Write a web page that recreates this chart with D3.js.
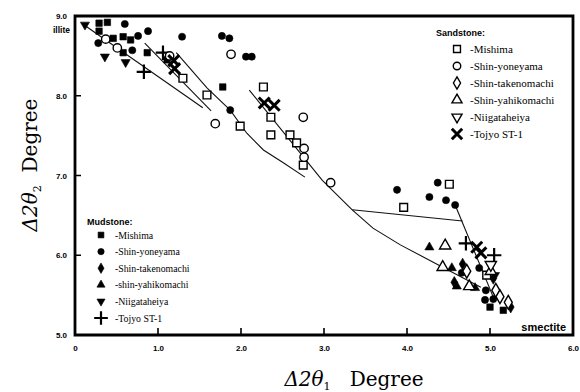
<!DOCTYPE html>
<html><head><meta charset="utf-8">
<script src="https://cdn.jsdelivr.net/npm/d3@7"></script>
<style>body{margin:0;background:#fff;color:#000}</style></head>
<body>
<svg id="c" width="580" height="392"></svg>
<script>
// ---- tick labels ----
const xTicks = [0, 1, 2, 3, 4, 5, 6];
const xTickLabels = ["0", "1.0", "2.0", "3.0", "4.0", "5.0", "6.0"];
const yTicks = [5, 6, 7, 8, 9];
const yTickLabels = ["5.0", "6.0", "7.0", "8.0", "9.0"];

// ---- Mudstone series (filled) ----
const mudMishima = [[0.29,8.91],[0.39,8.92],[0.29,8.81],[0.46,8.72],[0.58,8.74],[0.67,8.70],[0.58,8.54],[0.87,8.54],[1.11,8.45],[1.78,8.11],[5.00,5.35],[5.16,5.31]];
const mudShinYoneyama = [[0.28,8.66],[0.60,8.90],[0.76,8.75],[0.88,8.81],[0.69,8.57],[1.29,8.74],[1.77,8.75],[1.86,8.72],[2.06,8.49],[2.13,8.49],[1.87,7.82],[3.88,6.82],[4.37,6.91],[4.27,6.73],[4.47,6.69],[4.58,6.63],[4.66,5.78],[4.87,5.84],[4.95,5.56],[4.94,5.44],[5.04,5.45]];
const mudShinTakenomachi = [[4.67,5.89],[4.57,5.66],[5.04,5.71],[5.25,5.35]];
const mudShinYahikomachi = [[4.27,6.10],[4.54,5.84],[4.60,5.61],[4.82,5.59]];
const mudNiigataheiya = [[0.12,8.89],[0.36,8.49],[0.61,8.42],[5.06,5.75]];
const mudTojyo = [[0.83,8.30],[1.06,8.54],[4.71,6.15],[5.05,6.00]];

// ---- Sandstone series (open) ----
const sandMishima = [[1.30,8.22],[1.59,8.01],[1.99,7.62],[2.27,8.11],[2.36,7.73],[2.36,7.51],[2.59,7.51],[2.67,7.41],[2.75,7.13],[3.96,6.60],[4.51,6.89],[4.96,5.75]];
const sandShinYoneyama = [[0.37,8.71],[0.51,8.60],[1.14,8.50],[1.88,8.52],[1.69,7.65],[2.75,7.73],[2.76,7.34],[2.76,7.23],[3.08,6.91]];
const sandShinTakenomachi = [[4.72,5.80],[5.07,5.56],[5.12,5.48],[5.22,5.41]];
const sandShinYahikomachi = [[4.46,6.12],[4.43,5.85],[4.75,5.61],[5.01,5.80]];
const sandNiigataheiya = [[5.01,5.88]];
const sandTojyo = [[1.19,8.44],[1.20,8.34],[2.28,7.91],[2.40,7.88],[4.84,6.10],[4.89,6.03]];

// ---- trend lines ----
const lineA = [[0.08,8.91],[1.54,7.85]];
const lineB = [[0.84,8.66],[1.64,7.81]];
const lineC = [[1.22,8.54],[1.59,8.10],[1.87,7.82],[2.07,7.53],[2.27,7.32],[2.51,7.16],[2.77,6.98]];
const lineD = [[2.10,8.07],[2.98,6.94],[3.34,6.57],[3.59,6.34],[3.92,6.13],[4.43,5.85],[4.89,5.60]];
const lineE = [[3.34,6.57],[4.67,6.43]];
const lineF = [[4.58,6.63],[5.05,5.45]];

const svg = d3.select("#c");
const x = d3.scaleLinear().domain([0, 6]).range([75, 573]);
const y = d3.scaleLinear().domain([5, 9]).range([335, 16]);
const line = d3.line().x(d => x(d[0])).y(d => y(d[1]));

// frame (drawn as a data-space path)
svg.append("path")
  .attr("d", line([[0, 5], [0, 9], [6, 9], [6, 5], [0, 5]]) + "Z")
  .style("fill", "none").style("stroke", "#000").style("stroke-width", 2.8).style("stroke-linejoin", "miter");

// tick marks (inward)
const tickPath = d3.path();
xTicks.slice(1, -1).forEach(t => { tickPath.moveTo(x(t), y(5)); tickPath.lineTo(x(t), y(5) - 7); });
yTicks.slice(1, -1).forEach(t => { tickPath.moveTo(x(0), y(t)); tickPath.lineTo(x(0) + 6, y(t)); });
svg.append("path").attr("d", tickPath.toString()).style("fill", "none").style("stroke", "#000").style("stroke-width", 1.6);

// trend lines
[lineA, lineB, lineC, lineD, lineE, lineF].forEach(l => {
  svg.append("path").attr("d", line(l)).style("fill", "none").style("stroke", "#111").style("stroke-width", 1.1);
});

// inverted triangle symbol
const invTri = { draw(ctx, size) {
  const s = Math.sqrt(size * 4 / Math.sqrt(3)); const h = s * Math.sqrt(3) / 2;
  ctx.moveTo(-s / 2, -h / 3); ctx.lineTo(s / 2, -h / 3); ctx.lineTo(0, 2 * h / 3); ctx.closePath(); } };

const series = [
  { group: "mud", name: "-Mishima", data: mudMishima, type: d3.symbolSquare, size: 42, filled: true },
  { group: "mud", name: "-Shin-yoneyama", data: mudShinYoneyama, type: d3.symbolCircle, size: 40, filled: true },
  { group: "mud", name: "-Shin-takenomachi", data: mudShinTakenomachi, type: d3.symbolDiamond, size: 40, filled: true },
  { group: "mud", name: "-shin-yahikomachi", data: mudShinYahikomachi, type: d3.symbolTriangle, size: 36, filled: true },
  { group: "mud", name: "-Niigataheiya", data: mudNiigataheiya, type: invTri, size: 36, filled: true },
  { group: "mud", name: "-Tojyo ST-1", data: mudTojyo, type: d3.symbolPlus, size: 70, filled: false, stroke: 2.2, cross: true },
  { group: "sand", name: "-Mishima", data: sandMishima, type: d3.symbolSquare, size: 60, filled: false },
  { group: "sand", name: "-Shin-yoneyama", data: sandShinYoneyama, type: d3.symbolCircle, size: 55, filled: false },
  { group: "sand", name: "-Shin-takenomachi", data: sandShinTakenomachi, type: d3.symbolDiamond, size: 55, filled: false },
  { group: "sand", name: "-Shin-yahikomachi", data: sandShinYahikomachi, type: d3.symbolTriangle, size: 55, filled: false },
  { group: "sand", name: "-Niigataheiya", data: sandNiigataheiya, type: invTri, size: 55, filled: false },
  { group: "sand", name: "-Tojyo ST-1", data: sandTojyo, type: d3.symbolTimes, size: 80, filled: false, stroke: 3, cross: true }
];

function styleSym(sel, s) {
  if (s.cross) sel.style("fill", "none").style("stroke", "#000").style("stroke-width", s.stroke);
  else if (s.filled) sel.style("fill", "#000").style("stroke", "#000").style("stroke-width", 0.6);
  else sel.style("fill", "#fff").style("stroke", "#000").style("stroke-width", 1.4);
}

series.forEach(s => {
  const g = svg.append("g");
  const sym = d3.symbol().type(s.type).size(s.size);
  const p = g.selectAll("path").data(s.data).join("path")
    .attr("d", sym)
    .attr("transform", d => `translate(${x(d[0])},${y(d[1])})`);
  styleSym(p, s);
});

// axes (tick labels via d3.axis)
const xAxis = d3.axisBottom(x).tickValues(xTicks).tickFormat((d, i) => xTickLabels[i]).tickSize(0).tickPadding(10);
const gx = svg.append("g").attr("transform", `translate(0,${y(5)})`).call(xAxis);
gx.select(".domain").remove();
gx.selectAll("text").style("font-family", "'Liberation Sans', Arial, sans-serif").style("font-weight", "bold").style("font-size", "8px").style("fill", "#000");

const yAxis = d3.axisLeft(y).tickValues(yTicks).tickFormat((d, i) => yTickLabels[i]).tickSize(0).tickPadding(8);
const gy = svg.append("g").attr("transform", `translate(${x(0)},0)`).call(yAxis);
gy.select(".domain").remove();
gy.selectAll("text").style("font-family", "'Liberation Sans', Arial, sans-serif").style("font-weight", "bold").style("font-size", "8px").style("fill", "#000");

// illite / smectite labels
svg.append("text").attr("x", 70).attr("y", 33).attr("text-anchor", "end")
  .style("font-family", "'Liberation Sans', Arial, sans-serif").style("font-weight", "bold").style("font-size", "8.5px").text("illite");
svg.append("text").attr("x", 566).attr("y", 331).attr("text-anchor", "end")
  .style("font-family", "'Liberation Sans', Arial, sans-serif").style("font-weight", "bold").style("font-size", "11px").text("smectite");

// legends
function legend(group, title, tx, ty, sx, txx, y0, dy, fs) {
  svg.append("text").attr("x", tx).attr("y", ty).style("font-family", "'Liberation Sans', Arial, sans-serif")
    .style("font-weight", "bold").style("font-size", "9px").text(title);
  series.filter(s => s.group === group).forEach((s, i) => {
    const yy = y0 + i * dy;
    const sz = s.cross ? s.size * 0.9 : s.size * 0.8;
    const p = svg.append("path").attr("d", d3.symbol().type(s.type).size(sz)()).attr("transform", `translate(${sx},${yy})`);
    styleSym(p, s);
    svg.append("text").attr("x", txx).attr("y", yy + 3.5).style("font-family", "'Liberation Serif', 'Times New Roman', serif")
      .style("font-size", fs + "px").text(s.name);
  });
}
legend("sand", "Sandstone:", 436, 36, 457, 470, 49, 17, 11);
legend("mud", "Mudstone:", 87, 225, 101, 115, 235, 16.6, 9.8);

// axis titles
const xt = svg.append("text").attr("x", 354).attr("y", 386).attr("text-anchor", "middle")
  .style("font-family", "'DejaVu Serif', serif").style("font-size", "20px");
xt.append("tspan").style("font-style", "italic").text("Δ2θ");
xt.append("tspan").style("font-size", "11px").attr("dy", 4).text("1");
xt.append("tspan").attr("dy", -4).text("\u00a0\u00a0\u00a0Degree");

const yt = svg.append("text").attr("transform", "translate(37,165) rotate(-90)").attr("text-anchor", "middle")
  .style("font-family", "'DejaVu Serif', serif").style("font-size", "20px");
yt.append("tspan").style("font-style", "italic").text("Δ2θ");
yt.append("tspan").style("font-size", "11px").attr("dy", 4).text("2");
yt.append("tspan").attr("dy", -4).text("\u00a0\u00a0Degree");
</script>
</body></html>
